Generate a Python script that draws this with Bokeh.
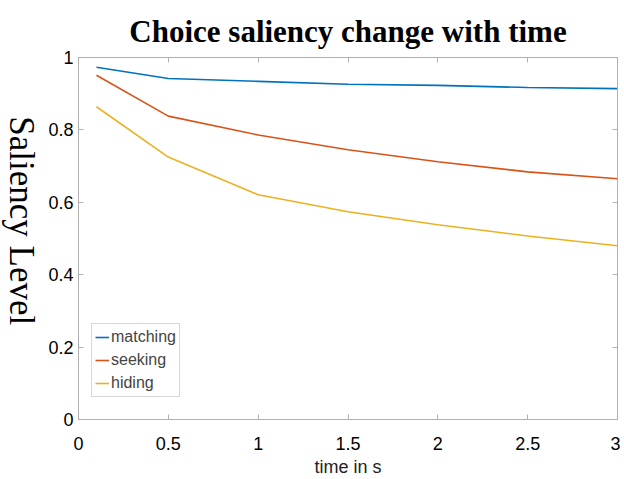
import math
from bokeh.plotting import figure
from bokeh.layouts import row
from bokeh.models import LinearAxis, Range1d, FixedTicker, Legend, LegendItem
from bokeh.core.properties import value
from bokeh.embed import file_html
from bokeh.resources import INLINE

time_s = [0.1, 0.5, 1.0, 1.5, 2.0, 2.5, 3.0]
matching = [0.973, 0.942, 0.934, 0.926, 0.923, 0.917, 0.914]
seeking = [0.951, 0.838, 0.786, 0.745, 0.712, 0.684, 0.665]
hiding = [0.864, 0.725, 0.621, 0.574, 0.538, 0.507, 0.480]

x_ticks = [0, 0.5, 1, 1.5, 2, 2.5, 3]
x_tick_labels = ["0", "0.5", "1", "1.5", "2", "2.5", "3"]
y_ticks = [0, 0.2, 0.4, 0.6, 0.8, 1.0]
y_tick_labels = ["0", "0.2", "0.4", "0.6", "0.8", "1"]

series_names = ["matching", "seeking", "hiding"]
colors = ["#0072BD", "#D95319", "#EDB120"]
y_title = "Saliency Level"

H = 479
LW = 45

# narrow strip holding the y-axis title (reads top to bottom)
lab = figure(width=LW, height=H, output_backend="svg", toolbar_location=None,
             x_range=Range1d(0, LW), y_range=Range1d(H, 0),
             x_axis_type=None, y_axis_type=None,
             min_border_left=0, min_border_right=0, min_border_top=0,
             min_border_bottom=0)
lab.outline_line_color = None
lab.text(x=[21], y=[216], text=[y_title], angle=-math.pi / 2,
         text_align="center", text_baseline="middle",
         text_font=value("Liberation Serif"), text_font_size="35px",
         text_color="black")

p = figure(width=620 - LW, height=H, output_backend="svg", toolbar_location=None,
           x_range=Range1d(0, 3), y_range=Range1d(0, 1),
           min_border_left=77 - LW, min_border_top=57, min_border_right=3,
           min_border_bottom=58)
p.title.text = "Choice saliency change with time"
p.title.align = "center"
p.title.text_font = "Liberation Serif"
p.title.text_font_style = "bold"
p.title.text_font_size = "31px"
p.title.text_color = "black"
p.title.standoff = 18

p.xgrid.visible = False
p.ygrid.visible = False
p.outline_line_color = "#b0b0b0"

renderers = []
for ys, c in zip([matching, seeking, hiding], colors):
    r = p.line(time_s, ys, line_color=c, line_width=1.6)
    renderers.append(r)

def style_axis(ax, ticks, labels, show_labels=True):
    ax.ticker = FixedTicker(ticks=ticks)
    ax.major_label_overrides = {t: l for t, l in zip(ticks, labels)}
    ax.major_tick_in = 5
    ax.major_tick_out = 0
    ax.minor_tick_line_color = None
    ax.axis_line_color = "#b0b0b0"
    ax.major_tick_line_color = "#b0b0b0"
    ax.major_label_text_font = "Liberation Sans"
    ax.major_label_text_font_size = "18px"
    ax.major_label_text_color = "black"
    if not show_labels:
        ax.major_label_text_font_size = "0px"
        ax.major_label_standoff = 0

style_axis(p.xaxis[0], x_ticks, x_tick_labels)
style_axis(p.yaxis[0], y_ticks, y_tick_labels)
p.xaxis[0].major_label_standoff = 17
p.yaxis[0].major_label_standoff = 5

p.xaxis[0].axis_label = "time in s"
p.xaxis[0].axis_label_text_font = "Liberation Sans"
p.xaxis[0].axis_label_text_font_style = "normal"
p.xaxis[0].axis_label_text_font_size = "18px"
p.xaxis[0].axis_label_text_color = "#222222"
p.xaxis[0].axis_label_standoff = 4

top = LinearAxis()
style_axis(top, x_ticks, x_tick_labels, show_labels=False)
p.add_layout(top, "above")
right = LinearAxis()
style_axis(right, y_ticks, y_tick_labels, show_labels=False)
p.add_layout(right, "right")

legend = Legend(items=[LegendItem(label=n, renderers=[r]) for n, r in zip(series_names, renderers)],
                location=(13, 22))
legend.label_text_font = "Liberation Sans"
legend.label_text_font_size = "16px"
legend.label_height = 20
legend.glyph_height = 20
legend.glyph_width = 14
legend.label_standoff = 2
legend.spacing = 3
legend.padding = 3
legend.margin = 0
legend.border_line_color = "#b0b0b0"
legend.background_fill_color = "white"
p.add_layout(legend, "center")

layout = row(lab, p, spacing=0)
open("out.html", "w").write(file_html(layout, INLINE))
